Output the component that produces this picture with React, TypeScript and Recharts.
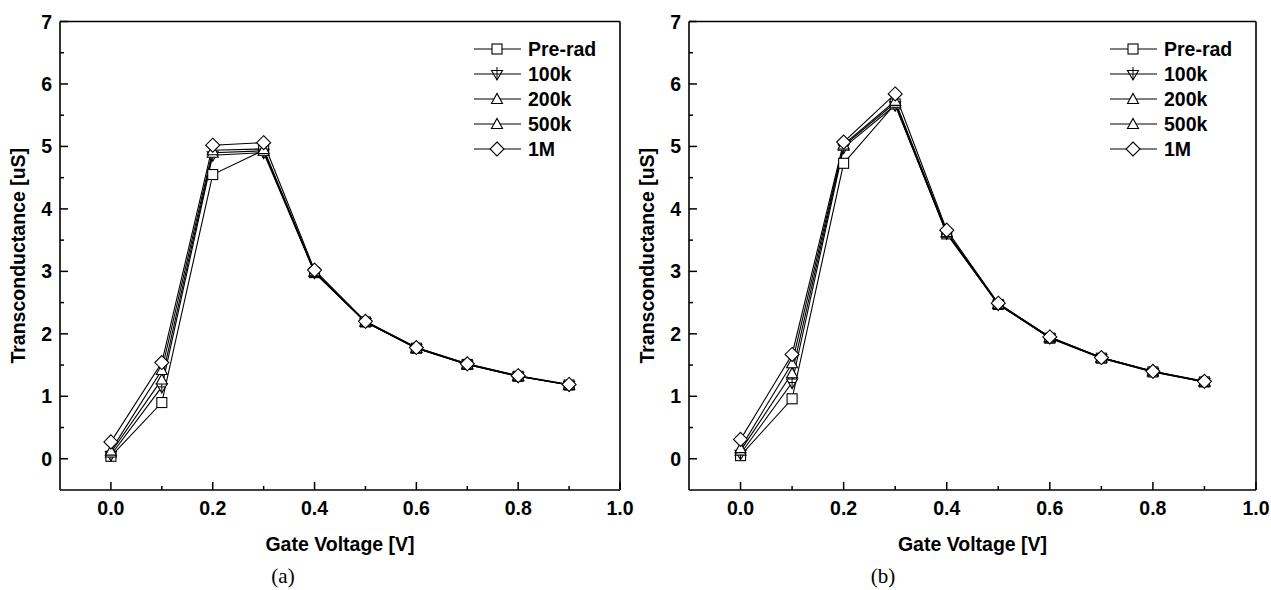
import React from 'react';
import { LineChart, Line, XAxis, YAxis, Legend, Label } from 'recharts';

const gateVoltage = [0, 0.1, 0.2, 0.3, 0.4, 0.5, 0.6, 0.7, 0.8, 0.9];
const seriesNames = ['Pre-rad', '100k', '200k', '500k', '1M'];
const xTicks = [0, 0.1, 0.2, 0.3, 0.4, 0.5, 0.6, 0.7, 0.8, 0.9, 1.0];
const yTicks = [0, 0.5, 1, 1.5, 2, 2.5, 3, 3.5, 4, 4.5, 5, 5.5, 6, 6.5, 7];

// Panel (a)
const aPreRad = [0.04, 0.90, 4.55, 4.94, 2.98, 2.19, 1.77, 1.51, 1.32, 1.18];
const a100k = [0.06, 1.15, 4.86, 4.90, 2.98, 2.19, 1.77, 1.51, 1.32, 1.18];
const a200k = [0.10, 1.27, 4.90, 4.93, 2.99, 2.19, 1.77, 1.51, 1.32, 1.18];
const a500k = [0.13, 1.42, 4.94, 4.96, 3.00, 2.20, 1.78, 1.52, 1.33, 1.19];
const a1M = [0.27, 1.54, 5.02, 5.06, 3.02, 2.20, 1.78, 1.52, 1.33, 1.19];

// Panel (b)
const bPreRad = [0.05, 0.96, 4.73, 5.68, 3.60, 2.47, 1.93, 1.61, 1.39, 1.23];
const b100k = [0.08, 1.22, 4.98, 5.66, 3.61, 2.47, 1.94, 1.61, 1.39, 1.23];
const b200k = [0.13, 1.37, 5.01, 5.70, 3.62, 2.48, 1.94, 1.62, 1.40, 1.23];
const b500k = [0.17, 1.53, 5.03, 5.73, 3.63, 2.48, 1.95, 1.62, 1.40, 1.24];
const b1M = [0.31, 1.67, 5.07, 5.84, 3.66, 2.49, 1.95, 1.62, 1.40, 1.24];

const buildRows = (series: number[][]) =>
  gateVoltage.map((v, i) => {
    const row: any = { v };
    series.forEach((s, k) => (row['s' + k] = s[i]));
    return row;
  });

const dataA = buildRows([aPreRad, a100k, a200k, a500k, a1M]);
const dataB = buildRows([bPreRad, b100k, b200k, b500k, b1M]);

const FONT = "'Liberation Sans', Arial, Helvetica, sans-serif";
const SERIF = "'Liberation Serif', 'Times New Roman', serif";

const Marker = ({ kind, cx, cy }: { kind: number; cx: number; cy: number }) => {
  const s = { fill: '#fff', stroke: '#000', strokeWidth: 1.1 };
  if (cx == null || cy == null) return null;
  switch (kind) {
    case 0:
      return <rect x={cx - 5} y={cy - 5} width={10} height={10} {...s} />;
    case 1:
      return (
        <g>
          <polygon points={`${cx - 5.5},${cy - 3.5} ${cx + 5.5},${cy - 3.5} ${cx},${cy + 6}`} {...s} />
          <line x1={cx} x2={cx} y1={cy - 7} y2={cy + 6} stroke="#000" strokeWidth={1} />
          <line x1={cx - 3.5} x2={cx + 3.5} y1={cy} y2={cy} stroke="#000" strokeWidth={1} />
        </g>
      );
    case 2:
    case 3:
      return <polygon points={`${cx - 5.5},${cy + 4.5} ${cx + 5.5},${cy + 4.5} ${cx},${cy - 5.5}`} {...s} />;
    default:
      return <polygon points={`${cx},${cy - 7} ${cx + 7},${cy} ${cx},${cy + 7} ${cx - 7},${cy}`} {...s} />;
  }
};

const XTick = (props: any) => {
  const { x, y, payload } = props;
  const v = payload.value;
  const major = Math.round(v * 10) % 2 === 0;
  return (
    <g>
      <line x1={x} x2={x} y1={y} y2={y - (major ? 8 : 4)} stroke="#000" strokeWidth={1.5} />
      {major && (
        <text x={x} y={y + 25} textAnchor="middle" fontFamily={FONT} fontWeight="bold" fontSize={19.5} fill="#000">
          {v.toFixed(1)}
        </text>
      )}
    </g>
  );
};

const YTick = (props: any) => {
  const { x, y, payload } = props;
  const v = payload.value;
  const major = Math.abs(v - Math.round(v)) < 1e-6;
  return (
    <g>
      <line x1={x} x2={x + (major ? 8 : 4)} y1={y} y2={y} stroke="#000" strokeWidth={1.5} />
      {major && (
        <text x={x - 8} y={y + 7} textAnchor="end" fontFamily={FONT} fontWeight="bold" fontSize={19.5} fill="#000">
          {String(v)}
        </text>
      )}
    </g>
  );
};

const LegendBox = () => (
  <svg width={150} height={140} style={{ display: 'block' }}>
    <rect x={0} y={0} width={150} height={140} fill="#fff" />
    {seriesNames.map((name, i) => {
      const cy = 21 + i * 25;
      return (
        <g key={name}>
          <line x1={7} x2={54} y1={cy} y2={cy} stroke="#000" strokeWidth={1.2} />
          <Marker kind={i} cx={30} cy={cy} />
          <text x={61} y={cy + 7} fontFamily={FONT} fontWeight="bold" fontSize={19.5} fill="#000">
            {name}
          </text>
        </g>
      );
    })}
  </svg>
);

const Panel = ({
  data,
  width,
  left,
  right,
  caption,
  captionDx,
  legendLeft,
}: {
  data: any[];
  width: number;
  left: number;
  right: number;
  caption: string;
  captionDx: number;
  legendLeft: number;
}) => (
  <LineChart width={width} height={590} data={data} margin={{ top: 20.5, right: right - 1, bottom: 99, left: left - 1 }}>
    <XAxis
      dataKey="v"
      type="number"
      domain={[-0.1, 1.0]}
      ticks={xTicks}
      interval={0}
      height={1}
      tickSize={0}
      tickMargin={0}
      tickLine={false}
      tick={<XTick />}
      axisLine={{ stroke: '#000', strokeWidth: 1.6 }}
      allowDataOverflow
    >
      <Label
        content={(p: any) => {
          const vb = p.viewBox || {};
          return (
            <g>
              <text x={vb.x + vb.width / 2} y={vb.y + 61} textAnchor="middle" fontFamily={FONT} fontWeight="bold" fontSize={19.5} fill="#000">
                Gate Voltage [V]
              </text>
              <text x={vb.x + captionDx} y={vb.y + 93} textAnchor="middle" fontFamily={SERIF} fontSize={21} fill="#000">
                {caption}
              </text>
            </g>
          );
        }}
      />
    </XAxis>
    <XAxis
      xAxisId="top"
      orientation="top"
      type="number"
      domain={[-0.1, 1.0]}
      height={1}
      tick={false}
      tickLine={false}
      axisLine={{ stroke: '#000', strokeWidth: 1.6 }}
    />
    <YAxis
      type="number"
      domain={[-0.5, 7]}
      ticks={yTicks}
      interval={0}
      width={1}
      tickSize={0}
      tickMargin={0}
      tickLine={false}
      tick={<YTick />}
      axisLine={{ stroke: '#000', strokeWidth: 1.6 }}
      allowDataOverflow
    >
      <Label
        content={(p: any) => {
          const vb = p.viewBox || {};
          const cx = vb.x + vb.width - 42;
          const cy = vb.y + vb.height / 2;
          return (
            <text
              x={cx}
              y={cy}
              transform={`rotate(-90, ${cx}, ${cy})`}
              textAnchor="middle"
              dominantBaseline="central"
              fontFamily={FONT}
              fontWeight="bold"
              fontSize={19.5}
              fill="#000"
            >
              Transconductance [uS]
            </text>
          );
        }}
      />
    </YAxis>
    <YAxis
      yAxisId="right"
      orientation="right"
      type="number"
      domain={[-0.5, 7]}
      width={1}
      tick={false}
      tickLine={false}
      axisLine={{ stroke: '#000', strokeWidth: 1.6 }}
    />
    <Legend
      layout="horizontal"
      align="center"
      verticalAlign="middle"
      content={() => <LegendBox />}
      wrapperStyle={{ left: legendLeft, top: 28, width: 150, height: 140 }}
    />
    {seriesNames.map((name, k) => (
      <Line
        key={name}
        name={name}
        dataKey={'s' + k}
        stroke="#000"
        strokeWidth={1.1}
        isAnimationActive={false}
        dot={(p: any) => <Marker key={`${name}-${p.index}`} kind={k} cx={p.cx} cy={p.cy} />}
        activeDot={false}
      />
    ))}
  </LineChart>
);

export default function App() {
  return (
    <div style={{ position: 'absolute', left: 0, top: 0, width: 1271, height: 590, background: '#fff' }}>
      <div style={{ position: 'absolute', left: 0, top: 0 }}>
        <Panel data={dataA} width={645} left={60} right={25} caption="(a)" captionDx={223} legendLeft={467} />
      </div>
      <div style={{ position: 'absolute', left: 625, top: 0 }}>
        <Panel data={dataB} width={646} left={64} right={15} caption="(b)" captionDx={194} legendLeft={478} />
      </div>
    </div>
  );
}
